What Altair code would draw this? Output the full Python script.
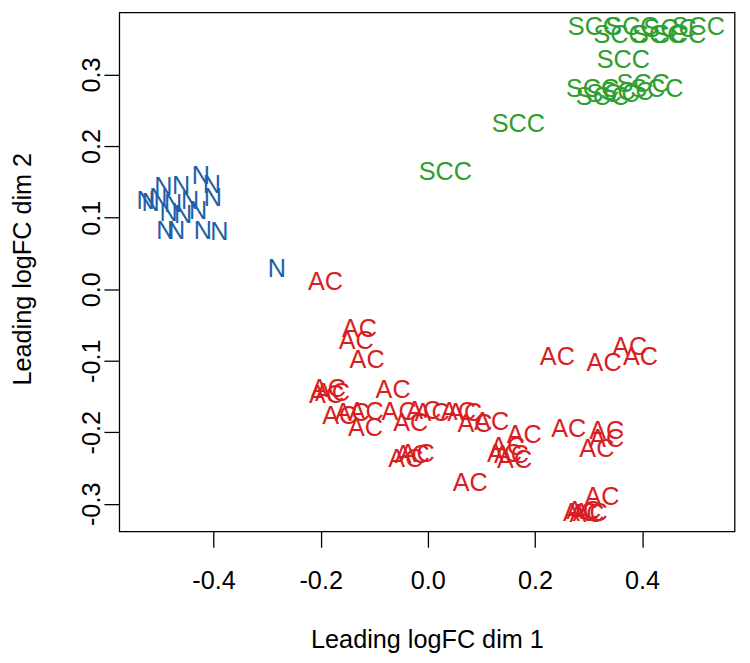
import altair as alt
import pandas as pd

# ---- data ----
n_x = [-0.282, -0.4236, -0.403, -0.4935, -0.4605, -0.4015, -0.527, -0.5176, -0.503,
       -0.4754, -0.444, -0.484, -0.457, -0.429, -0.49, -0.47, -0.42, -0.389]
n_y = [0.0277, 0.158, 0.146, 0.142, 0.1434, 0.128, 0.1226, 0.12, 0.127,
       0.1185, 0.1226, 0.106, 0.103, 0.109, 0.081, 0.081, 0.081, 0.0798]

ac_x = [-0.191, -0.1276, -0.1337, -0.1134, -0.1854, -0.178, -0.189, -0.0648,
        -0.1645, -0.141, -0.115, -0.0537, -0.0076, 0.008, 0.057, 0.069,
        -0.1165, -0.032, 0.088, 0.119, 0.180, 0.143, 0.149, 0.156, 0.162,
        0.263, 0.334, 0.334, 0.3155, -0.041, -0.029, -0.020, 0.079,
        0.2417, 0.329, 0.377, 0.397, 0.325, 0.291, 0.285, 0.297, 0.303]
ac_y = [0.0097, -0.0561, -0.0723, -0.0986, -0.140, -0.1456, -0.1483, -0.141,
        -0.177, -0.173, -0.172, -0.172, -0.170, -0.173, -0.172, -0.173,
        -0.194, -0.187, -0.189, -0.186, -0.204, -0.230, -0.221, -0.232, -0.239,
        -0.195, -0.198, -0.209, -0.224, -0.237, -0.232, -0.230, -0.271,
        -0.0949, -0.103, -0.081, -0.0949, -0.290, -0.3105, -0.313, -0.315, -0.313]

scc_x = [0.0325, 0.169, 0.311, 0.359, 0.381, 0.431, 0.452, 0.470, 0.505, 0.365,
         0.3076, 0.326, 0.346, 0.372, 0.402, 0.4275]
scc_y = [0.164, 0.231, 0.366, 0.355, 0.366, 0.355, 0.363, 0.355, 0.366, 0.320,
         0.279, 0.268, 0.272, 0.276, 0.287, 0.279]

groups = ["N", "AC", "SCC"]
colors = ["#1F5FA8", "#D81E22", "#2E9E2E"]
x_ticks = [-0.4, -0.2, 0.0, 0.2, 0.4]
y_ticks = [-0.3, -0.2, -0.1, 0.0, 0.1, 0.2, 0.3]

df = pd.concat([
    pd.DataFrame({"x": n_x, "y": n_y, "label": "N"}),
    pd.DataFrame({"x": ac_x, "y": ac_y, "label": "AC"}),
    pd.DataFrame({"x": scc_x, "y": scc_y, "label": "SCC"}),
], ignore_index=True)

FONT = "Liberation Sans, Arial, sans-serif"
FS = 25.5
lab_expr = "datum.value < 0 ? '-' + format(-datum.value, '.1f') : format(datum.value, '.1f')"

chart = alt.Chart(df).mark_text(
    font=FONT, fontSize=FS, align="center", baseline="middle"
).encode(
    x=alt.X("x:Q",
            scale=alt.Scale(domain=[-0.576, 0.5726], nice=False, zero=False),
            axis=alt.Axis(values=x_ticks, labelExpr=lab_expr, grid=False, domain=False,
                          tickSize=16, tickWidth=1.3, tickColor="black",
                          labelFont=FONT, labelFontSize=FS, labelColor="black",
                          labelBaseline="alphabetic", labelPadding=41.5,
                          labelAlign="center", labelFlush=False, labelOverlap=False,
                          title="Leading logFC dim 1", titleFont=FONT, titleFontSize=FS,
                          titleFontWeight="normal", titleColor="black",
                          titleX=311, titleY=117, titleAlign="center",
                          titleBaseline="alphabetic")),
    y=alt.Y("y:Q",
            scale=alt.Scale(domain=[-0.3385, 0.3867], nice=False, zero=False),
            axis=alt.Axis(values=y_ticks, labelExpr=lab_expr, grid=False, domain=False,
                          tickSize=15.5, tickWidth=1.3, tickColor="black",
                          labelFont=FONT, labelFontSize=FS, labelColor="black",
                          labelAngle=270, labelAlign="center", labelBaseline="alphabetic",
                          labelPadding=5, labelFlush=False, labelOverlap=False,
                          title="Leading logFC dim 2", titleFont=FONT, titleFontSize=FS,
                          titleFontWeight="normal", titleColor="black",
                          titleAngle=270, titleX=-89.5, titleY=259, titleAlign="center",
                          titleBaseline="alphabetic")),
    text="label:N",
    color=alt.Color("label:N", scale=alt.Scale(domain=groups, range=colors), legend=None),
).properties(
    width=622, height=524.5,
    autosize=alt.AutoSizeParams(type="none"),
    padding={"left": 112.5, "top": 1, "right": 7.5, "bottom": 128},
    background="white",
).configure_view(stroke="black", strokeWidth=1.3)

chart.save("out.html", embed_options={"renderer": "svg", "actions": False})
